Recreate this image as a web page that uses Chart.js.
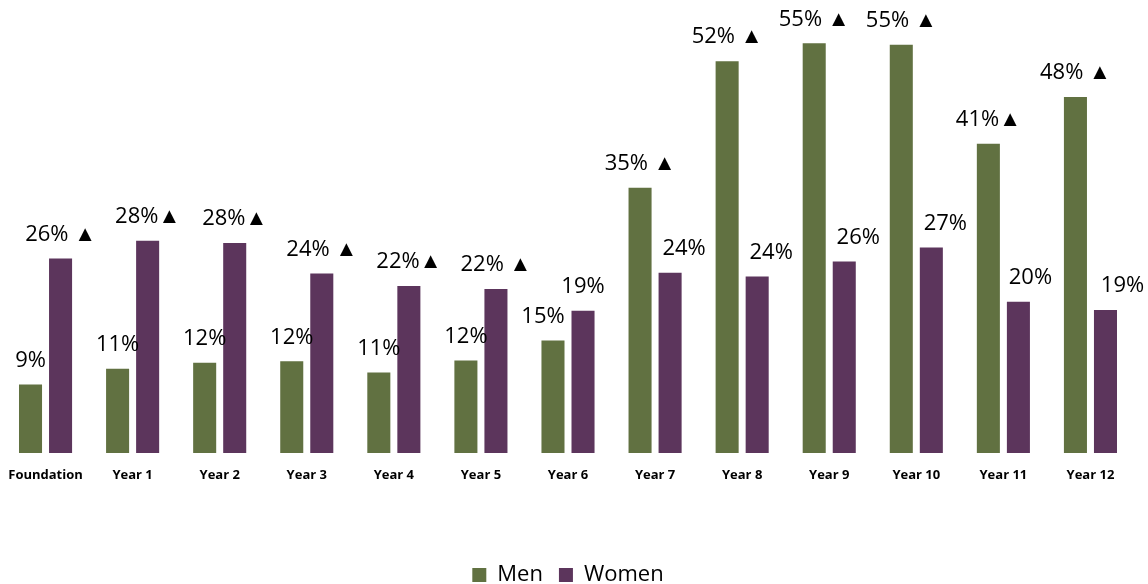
<!DOCTYPE html>
<html>
<head>
<meta charset="utf-8">
<script src="https://cdn.jsdelivr.net/npm/chart.js@4.4.0/dist/chart.umd.min.js"></script>
<style>
  html, body { margin: 0; padding: 0; background: #fff; }
  #wrap { width: 1148px; height: 584px; position: relative; }
</style>
</head>
<body>
<div id="wrap"><canvas id="myChart"></canvas></div>
<script>
var categories = ["Foundation", "Year 1", "Year 2", "Year 3", "Year 4", "Year 5", "Year 6",
    "Year 7", "Year 8", "Year 9", "Year 10", "Year 11", "Year 12"];

var menValues = [9.2, 11.3, 12.1, 12.3, 10.8, 12.4, 15.1, 35.6, 52.6, 55.0, 54.8, 41.5, 47.8];
var womenValues = [26.1, 28.5, 28.2, 24.1, 22.4, 22.0, 19.1, 24.2, 23.7, 25.7, 27.6, 20.3, 19.2];

var menLabels = ["9%", "11%", "12%", "12%", "11%", "12%", "15%", "35% \u25B2", "52% \u25B2",
    "55% \u25B2", "55% \u25B2", "41%\u25B2", "48% \u25B2"];
var womenLabels = ["26% \u25B2", "28%\u25B2", "28%\u25B2", "24% \u25B2", "22%\u25B2", "22% \u25B2", "19%",
    "24%", "24%", "26%", "27%", "20%", "19%"];

var colorChartScheme = {
    men: "#617141",
    women: "#5c355c",
};

// small hand nudges, like the moved labels in the original
var womenLabelShift = [0, 0, 0, 0, 0, 0, 0, 14, 14, 14, 14, 12, 17];
var menLabelShift = [0, 0, 0, 0, 0, 0, -10, 0, 0, 0, 0, 0, 0];

var barLabels = {
    id: "barLabels",
    afterDatasetsDraw: function (chart) {
        var ctx = chart.ctx;
        ctx.save();
        ctx.font = "22px 'Open Sans'";
        ctx.fillStyle = "#000";
        ctx.textAlign = "center";
        ctx.textBaseline = "middle";
        chart.data.datasets.forEach(function (ds, di) {
            var meta = chart.getDatasetMeta(di);
            var texts = di === 0 ? menLabels : womenLabels;
            var shift = di === 0 ? menLabelShift : womenLabelShift;
            meta.data.forEach(function (bar, i) {
                ctx.fillText(texts[i], bar.x + shift[i], bar.y - 24);
            });
        });
        ctx.restore();
    }
};

function init_chart() {
    var ctx = document.getElementById("myChart").getContext("2d");
    window.myChart = new Chart(ctx, {
        type: "bar",
        data: {
            labels: categories,
            datasets: [
                {
                    label: "Men",
                    data: menValues,
                    backgroundColor: colorChartScheme.men,
                    categoryPercentage: 0.69,
                    barPercentage: 0.767,
                },
                {
                    label: "Women",
                    data: womenValues,
                    backgroundColor: colorChartScheme.women,
                    categoryPercentage: 0.69,
                    barPercentage: 0.767,
                },
            ],
        },
        options: {
            responsive: true,
            maintainAspectRatio: false,
            animation: false,
            layout: {
                padding: { top: 6, left: 2, right: 14, bottom: -12 }
            },
            scales: {
                x: {
                    grid: { display: false },
                    border: { display: false },
                    ticks: {
                        color: "#000",
                        padding: 6,
                        maxRotation: 0,
                        autoSkip: false,
                        font: { family: "'Open Sans'", size: 13, weight: "bold" }
                    },
                    afterFit: function (scale) {
                        scale.height = 95;
                    }
                },
                y: {
                    display: false,
                    min: 0,
                    max: 60,
                },
            },
            plugins: {
                legend: {
                    position: "bottom",
                    labels: {
                        boxWidth: 14,
                        boxHeight: 14,
                        padding: 16,
                        color: "#000",
                        font: { family: "'Open Sans'", size: 22 }
                    }
                },
                tooltip: { enabled: false }
            }
        },
        plugins: [barLabels]
    });
}

init_chart();
</script>
</body>
</html>
